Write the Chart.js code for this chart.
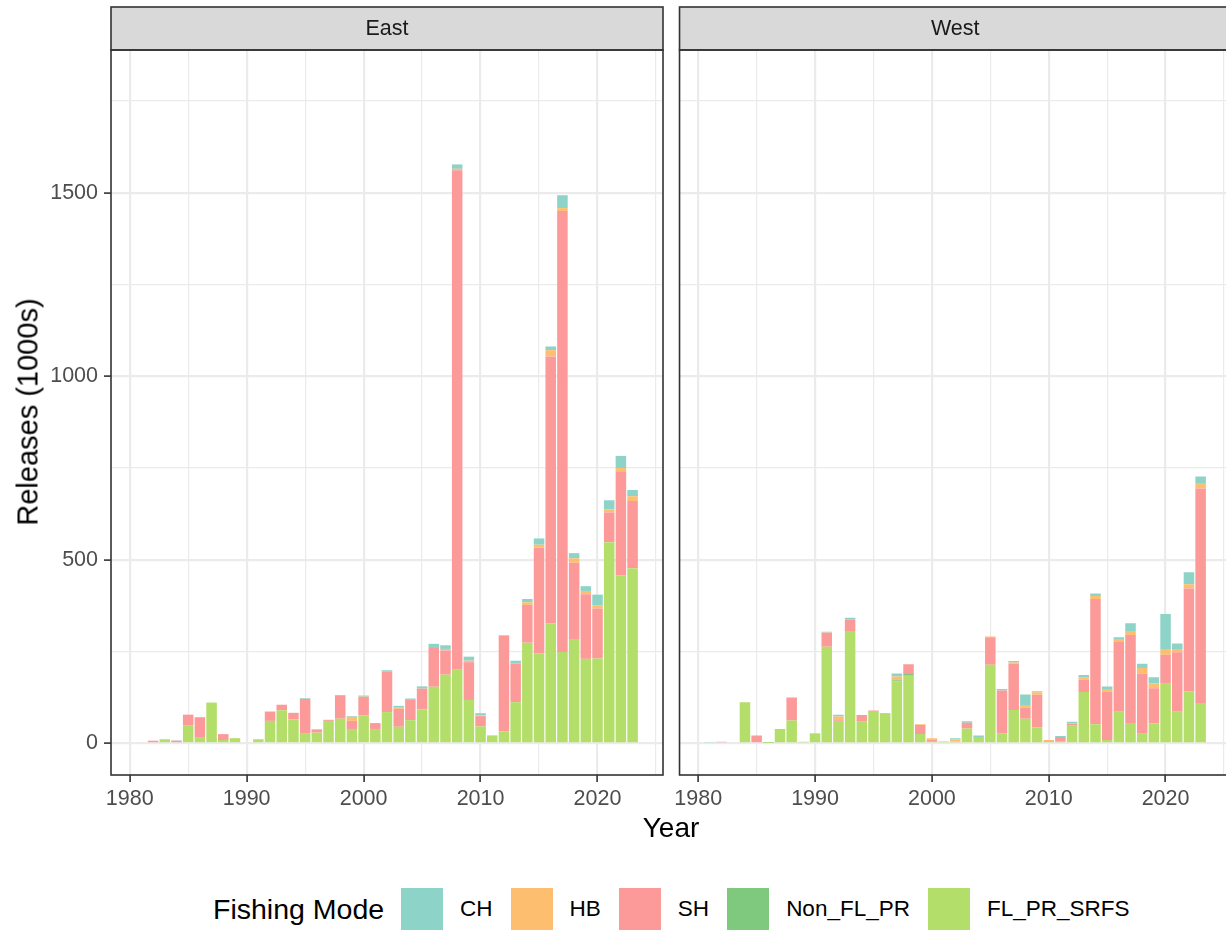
<!DOCTYPE html>
<html>
<head>
<meta charset="utf-8">
<script src="https://cdn.jsdelivr.net/npm/chart.js@4.4.1/dist/chart.umd.min.js"></script>
<style>
  html, body { margin: 0; padding: 0; background: #ffffff; }
  #wrap { position: relative; width: 1226px; height: 930px; overflow: hidden; background: #ffffff;
          font-family: "Liberation Sans", Arial, sans-serif; color: #000; }
  #wrap canvas { position: absolute; top: 0; }
  #east { left: 0; }
  #west { left: 670px; }
  .ytitle { position: absolute; left: 28px; top: 412px; transform: translate(-50%, -50%) rotate(-90deg);
            font-size: 29px; white-space: nowrap; }
  .xtitle { position: absolute; left: 671px; top: 828px; transform: translate(-50%, -50%);
            font-size: 28px; white-space: nowrap; }
  #legend { position: absolute; left: 213px; top: 888px; height: 42px; display: flex; align-items: center; }
  #legend .ltitle { font-size: 28.5px; margin-right: 17px; white-space: nowrap; }
  #legend .key { width: 42px; height: 42px; flex: none; }
  #legend .lab { font-size: 22.5px; margin-left: 17px; margin-right: 18px; white-space: nowrap; }
</style>
</head>
<body>
<div id="wrap">
  <canvas id="east" width="670" height="850"></canvas>
  <canvas id="west" width="563" height="850"></canvas>
  <div class="ytitle">Releases (1000s)</div>
  <div class="xtitle">Year</div>
  <div id="legend"></div>
</div>
<script>
// Years on the x axis
const years = [1981, 1982, 1983, 1984, 1985, 1986, 1987, 1988, 1989, 1990,
               1991, 1992, 1993, 1994, 1995, 1996, 1997, 1998, 1999, 2000,
               2001, 2002, 2003, 2004, 2005, 2006, 2007, 2008, 2009, 2010,
               2011, 2012, 2013, 2014, 2015, 2016, 2017, 2018, 2019, 2020,
               2021, 2022, 2023];

// Fishing modes (legend order) and their fills
const modes = ['CH', 'HB', 'SH', 'Non_FL_PR', 'FL_PR_SRFS'];
const modeColors = ['#8DD3C7', '#FDBF6F', '#FB9A99', '#7FC97F', '#B3DE69'];

// East releases (1000s) by mode
const eastFL  = [0, 0, 11, 3, 48, 15, 111, 9, 14, 3,
                 11, 61, 90, 65, 26, 29, 61, 67, 39, 76,
                 39, 85, 45, 63, 92, 154, 187, 202, 118, 46,
                 21, 32, 112, 274, 245, 326, 249, 284, 230, 231,
                 548, 457, 477];
const eastNon = [0, 0, 0, 0, 0, 0, 0, 0, 0, 0,
                 0, 0, 0, 0, 0, 0, 0, 0, 0, 0,
                 0, 0, 0, 0, 0, 0, 0, 0, 0, 0,
                 0, 0, 0, 0, 0, 0, 0, 0, 0, 0,
                 0, 0, 0];
const eastSH  = [0, 7, 0, 4, 30, 56, 0, 16, 0, 0,
                 0, 25, 15, 18, 95, 9, 3, 64, 22, 50,
                 16, 111, 49, 57, 57, 108, 66, 1359, 103, 28,
                 0, 261, 105, 103, 288, 728, 1201, 208, 176, 136,
                 81, 284, 183];
const eastHB  = [0, 0, 0, 0, 0, 0, 0, 0, 0, 0,
                 0, 1, 0, 0, 0, 0, 0, 0, 11, 1,
                 0, 0, 3, 0, 0, 0, 4, 4, 4, 2,
                 1, 2, 0, 7, 8, 17, 8, 12, 9, 9,
                 8, 9, 13];
const eastCH  = [0, 0, 0, 1, 0, 0, 0, 0, 0, 0,
                 0, 0, 0, 0, 2, 0, 0, 0, 2, 3,
                 0, 3, 5, 2, 6, 9, 10, 12, 11, 6,
                 0, 0, 8, 9, 17, 10, 35, 14, 13, 29,
                 25, 33, 17];

// West releases (1000s) by mode
const westFL  = [0, 0, 0, 112, 0, 1, 39, 62, 4, 26,
                 263, 61, 306, 59, 88, 80, 168, 184, 25, 6,
                 5, 5, 40, 17, 214, 27, 91, 67, 43, 6,
                 4, 48, 140, 52, 9, 86, 55, 26, 54, 162,
                 86, 142, 110];
const westNon = [0, 0, 0, 0, 0, 0, 0, 0, 0, 0,
                 0, 0, 0, 0, 0, 0, 4, 5, 0, 0,
                 0, 0, 0, 0, 0, 0, 0, 0, 0, 0,
                 0, 0, 0, 0, 0, 0, 0, 0, 0, 0,
                 0, 0, 0];
const westSH  = [0, 4, 0, 0, 21, 0, 0, 63, 0, 0,
                 38, 2, 31, 18, 1, 2, 0, 26, 25, 4,
                 0, 0, 16, 0, 75, 117, 126, 30, 89, 0,
                 13, 5, 33, 341, 132, 190, 240, 164, 96, 79,
                 162, 280, 584];
const westHB  = [0, 0, 0, 0, 0, 0, 0, 0, 0, 0,
                 1, 10, 0, 0, 0, 0, 10, 0, 2, 4,
                 0, 5, 0, 0, 2, 0, 3, 7, 7, 3,
                 0, 2, 7, 8, 7, 8, 11, 15, 13, 14,
                 9, 11, 15];
const westCH  = [2, 0, 0, 0, 0, 2, 0, 0, 0, 1,
                 2, 5, 5, 0, 0, 0, 8, 0, 0, 0,
                 0, 4, 4, 4, 0, 4, 4, 29, 3, 0,
                 3, 4, 6, 7, 7, 5, 21, 12, 17, 97,
                 15, 33, 18];

// Axis ticks (majors are labelled, the rest are minor grid lines)
const xTicks = [1980, 1985, 1990, 1995, 2000, 2005, 2010, 2015, 2020, 2025];
const xMajor = [1980, 1990, 2000, 2010, 2020];
const yTicks = [0, 250, 500, 750, 1000, 1250, 1500, 1750];
const yMajor = [0, 500, 1000, 1500];

const FONT = '"Liberation Sans", Arial, sans-serif';
Chart.defaults.font.family = FONT;

// Strip header and panel border for each facet
const panelFrame = {
  id: 'panelFrame',
  afterDraw(chart, args, opts) {
    const { ctx, chartArea: a } = chart;
    const stripTop = 7;
    ctx.save();
    ctx.fillStyle = '#D9D9D9';
    ctx.fillRect(a.left, stripTop, a.right - a.left, a.top - stripTop);
    ctx.strokeStyle = '#333333';
    ctx.lineWidth = 1.6;
    ctx.strokeRect(a.left, stripTop, a.right - a.left, a.top - stripTop);
    ctx.strokeRect(a.left, a.top, a.right - a.left, a.bottom - a.top);
    ctx.fillStyle = '#1A1A1A';
    ctx.font = '21.5px ' + FONT;
    ctx.textAlign = 'center';
    ctx.textBaseline = 'middle';
    ctx.fillText(opts.title, (a.left + a.right) / 2, (stripTop + a.top) / 2 + 1);
    ctx.restore();
  }
};

function isMajor(list, v) { return list.indexOf(v) !== -1; }

function makePanel(canvasId, title, series, showY, pad) {
  // stacked bottom-up: FL_PR_SRFS, Non_FL_PR, SH, HB, CH
  const order = [4, 3, 2, 1, 0];
  const datasets = order.map(i => ({
    label: modes[i],
    data: series[i],
    backgroundColor: modeColors[i],
    borderWidth: 0,
    barPercentage: 0.9,
    categoryPercentage: 1.0
  }));
  return new Chart(document.getElementById(canvasId), {
    type: 'bar',
    data: { labels: years, datasets },
    options: {
      responsive: false,
      animation: false,
      devicePixelRatio: 1,
      layout: { padding: pad },
      plugins: { legend: { display: false }, tooltip: { enabled: false }, panelFrame: { title } },
      scales: {
        x: {
          type: 'linear', min: 1978.4, max: 2025.6, offset: false, stacked: true,
          border: { display: false },
          grid: {
            offset: false,
            color: '#EBEBEB',
            lineWidth: c => isMajor(xMajor, c.tick.value) ? 2.2 : 1.2,
            tickColor: c => isMajor(xMajor, c.tick.value) ? '#333333' : 'rgba(0,0,0,0)',
            tickLength: 7, tickWidth: 1.6
          },
          ticks: {
            color: '#4D4D4D', font: { size: 21.5 }, padding: 4, autoSkip: false, maxRotation: 0,
            callback: v => isMajor(xMajor, v) ? String(v) : ''
          },
          afterBuildTicks: s => { s.ticks = xTicks.map(v => ({ value: v })); },
          afterFit: s => { s.height = 75; }
        },
        y: {
          min: -86.4, max: 1888.7, stacked: true,
          border: { display: false },
          grid: {
            color: '#EBEBEB',
            lineWidth: c => isMajor(yMajor, c.tick.value) ? 2.2 : 1.2,
            tickColor: c => (showY && isMajor(yMajor, c.tick.value)) ? '#333333' : 'rgba(0,0,0,0)',
            tickLength: 7, tickWidth: 1.6, drawTicks: showY
          },
          ticks: {
            display: showY, color: '#4D4D4D', font: { size: 21.5 }, padding: 6,
            callback: v => isMajor(yMajor, v) ? String(v) : ''
          },
          afterBuildTicks: s => { s.ticks = yTicks.map(v => ({ value: v })); },
          afterFit: s => { s.width = showY ? 111 : 0; }
        }
      }
    },
    plugins: [panelFrame]
  });
}

makePanel('east', 'East', [eastCH, eastHB, eastSH, eastNon, eastFL], true,
          { left: 0, top: 50, right: 7, bottom: 0 });
makePanel('west', 'West', [westCH, westHB, westSH, westNon, westFL], false,
          { left: 9, top: 50, right: 2, bottom: 0 });

// Legend built from the mode list
const legend = document.getElementById('legend');
const lt = document.createElement('span');
lt.className = 'ltitle';
lt.textContent = 'Fishing Mode';
legend.appendChild(lt);
modes.forEach((m, i) => {
  const k = document.createElement('span');
  k.className = 'key';
  k.style.background = modeColors[i];
  legend.appendChild(k);
  const t = document.createElement('span');
  t.className = 'lab';
  t.textContent = m;
  legend.appendChild(t);
});
</script>
</body>
</html>
